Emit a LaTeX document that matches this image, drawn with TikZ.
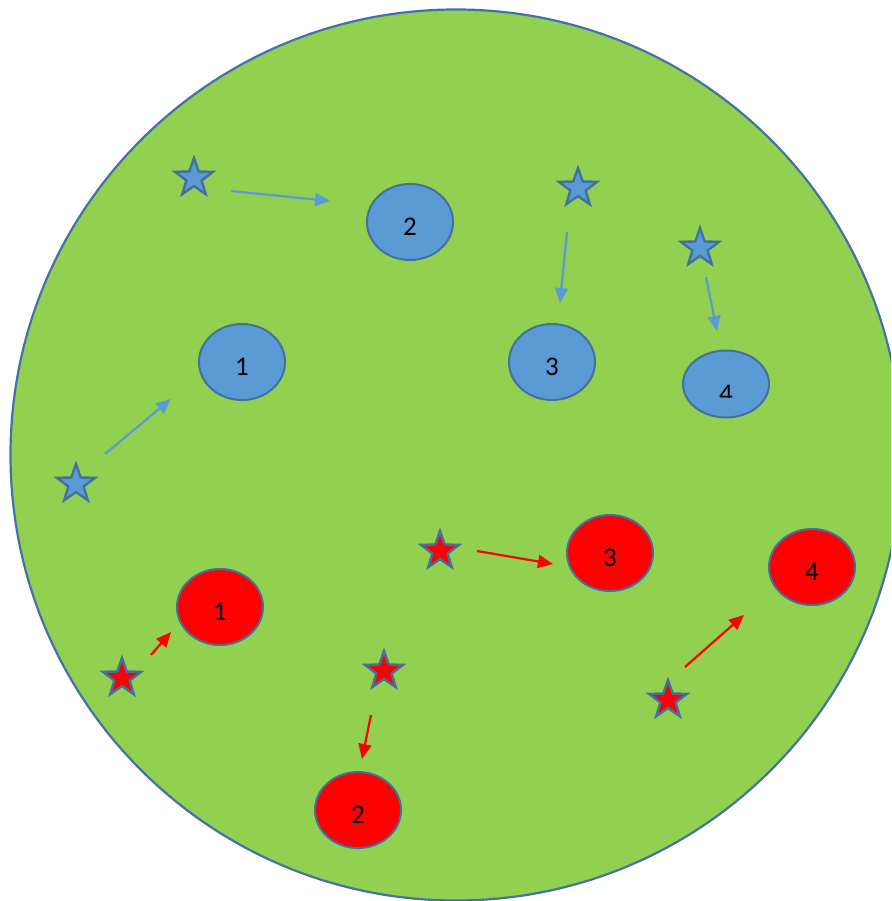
\documentclass[tikz,border=0pt]{standalone}
\usepackage{fontspec}
\setmainfont{Carlito}
\usetikzlibrary{shapes.geometric,arrows.meta,calc}
\definecolor{bggreen}{HTML}{92D050}
\definecolor{ablue}{HTML}{5B9BD5}
\definecolor{bord}{HTML}{41719C}
\definecolor{cborder}{HTML}{4472A8}
\tikzset{
  ell/.style={ellipse, draw=bord, line width=2pt, minimum width=86pt, minimum height=76pt, inner sep=0pt},
  bell/.style={ell, fill=ablue},
  rell/.style={ell, fill=red},
  lbl/.style={font=\fontsize{27}{30}\selectfont, inner sep=0pt, text=black},
  bstar/.style={star, star points=5, star point ratio=2.5, minimum size=40pt, inner sep=0pt, draw=bord, line width=2.4pt, fill=ablue},
  rstar/.style={bstar, fill=red},
  barrow/.style={draw=ablue, line width=2.2pt, -{Triangle[length=15pt,width=13pt]}},
  rarrow/.style={draw=red, line width=2.2pt, -{Triangle[length=15pt,width=13pt]}},
}
\begin{document}
\begin{tikzpicture}[x=1pt,y=-1pt]
\useasboundingbox (0,0) rectangle (891,901);
\begin{scope}
\clip (0,0) rectangle (891,901);
\node[circle, draw=cborder, line width=2.2pt, fill=bggreen, minimum size=891pt, inner sep=0pt] (disc) at (456,455) {};
\end{scope}
% blue ellipses
\node[bell] (b2) at (410,222) {};
\node[bell] (b1) at (242,362) {};
\node[bell] (b3) at (552,362) {};
\node[bell, minimum height=67pt] (b4) at (726,384) {};
\node[lbl] (t2) at ($(b2)+(0,5)$) {2};
\node[lbl] (t1) at ($(b1)+(0,5)$) {1};
\node[lbl] (t3) at ($(b3)+(0,5)$) {3};
\begin{scope}
\clip (682,350) rectangle (770,397);
\node[lbl, anchor=base] (t4) at (726,402) {4};
\end{scope}
% red ellipses
\node[rell] (r1) at (220,607) {};
\node[rell] (r3) at (610,553) {};
\node[rell] (r4) at (812,567) {};
\node[rell] (r2) at (358,810) {};
\node[lbl] (u1) at ($(r1)+(0,5)$) {1};
\node[lbl] (u3) at ($(r3)+(0,5)$) {3};
\node[lbl] (u4) at ($(r4)+(0,5)$) {4};
\node[lbl] (u2) at ($(r2)+(0,5)$) {2};
% blue stars
\node[bstar] (s1) at (194,178) {};
\node[bstar] (s2) at (578,188) {};
\node[bstar] (s3) at (700,248) {};
\node[bstar] (s4) at (76,484) {};
% red stars
\node[rstar] (q1) at (122,678) {};
\node[rstar] (q2) at (440,551) {};
\node[rstar] (q3) at (384,671) {};
\node[rstar] (q4) at (668,700) {};
% arrow endpoints
\coordinate (a1s) at (231,191); \coordinate (a1e) at (330,201);
\coordinate (a2s) at (567,232); \coordinate (a2e) at (560,303);
\coordinate (a3s) at (706,277); \coordinate (a3e) at (717,331);
\coordinate (a4s) at (105,454); \coordinate (a4e) at (171,399);
\coordinate (c1s) at (151,655); \coordinate (c1e) at (171,632);
\coordinate (c2s) at (477,551); \coordinate (c2e) at (553,564);
\coordinate (c3s) at (371,715); \coordinate (c3e) at (362,759);
\coordinate (c4s) at (685,667); \coordinate (c4e) at (744,615);
\draw[barrow] (a1s) -- (a1e);
\draw[barrow] (a2s) -- (a2e);
\draw[barrow] (a3s) -- (a3e);
\draw[barrow] (a4s) -- (a4e);
\draw[rarrow] (c1s) -- (c1e);
\draw[rarrow] (c2s) -- (c2e);
\draw[rarrow] (c3s) -- (c3e);
\draw[rarrow] (c4s) -- (c4e);
\end{tikzpicture}
\end{document}
